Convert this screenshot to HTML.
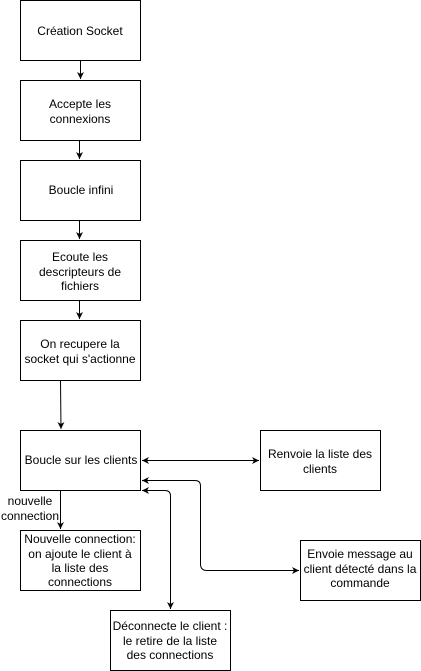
<!DOCTYPE html>
<html><head><style>body{margin:0;background:#fff}svg{display:block}text{font-family:"Liberation Sans",sans-serif;font-size:12px;fill:#000;text-anchor:middle}</style></head>
<body>
<svg width="421" height="671" viewBox="0 0 421 671" xmlns="http://www.w3.org/2000/svg">
<defs><marker id="a" markerWidth="8" markerHeight="8" refX="7" refY="4" orient="auto" markerUnits="userSpaceOnUse"><path d="M0,0.5 L7,4 L0,7.5 L2,4 Z" fill="#000"/></marker>
<marker id="s" markerWidth="8" markerHeight="8" refX="1" refY="4" orient="auto" markerUnits="userSpaceOnUse"><path d="M8,0.5 L1,4 L8,7.5 L6,4 Z" fill="#000"/></marker></defs>
<g fill="#fff" stroke="#000" stroke-width="1">
<rect x="20.5" y="0.5" width="120" height="60"/>
<rect x="20.5" y="80.5" width="120" height="60"/>
<rect x="20.5" y="160.5" width="120" height="60"/>
<rect x="20.5" y="240.5" width="120" height="60"/>
<rect x="20.5" y="320.5" width="120" height="60"/>
<rect x="20.5" y="430.5" width="120" height="60"/>
<rect x="260.5" y="430.5" width="120" height="60"/>
<rect x="20.5" y="530.5" width="120" height="60"/>
<rect x="300.5" y="540.5" width="120" height="60"/>
<rect x="110.5" y="610.5" width="120" height="60"/>
</g>
<g stroke="#000" stroke-width="1" fill="none">
<path d="M80.5 60.5V79" marker-end="url(#a)"/>
<path d="M79.5 140.5V159" marker-end="url(#a)"/>
<path d="M79.5 220.5V239" marker-end="url(#a)"/>
<path d="M79.5 300.5V319" marker-end="url(#a)"/>
<path d="M60.5 380.5L61 429" marker-end="url(#a)"/>
<path d="M60.5 490.5V529" marker-end="url(#a)"/>
<path d="M142 460.5H259" marker-start="url(#s)" marker-end="url(#a)"/>
<path d="M142 480.5H195Q200.5 480.5 200.5 486V564Q200.5 570.5 207 570.5H299" marker-start="url(#s)" marker-end="url(#a)"/>
<path d="M142 490.5H165Q170.5 490.5 170.5 496V609" marker-start="url(#s)" marker-end="url(#a)"/>
</g>
<text x="80" y="35">Création Socket</text>
<text x="80" y="108">Accepte les</text><text x="80" y="123">connexions</text>
<text x="81" y="194">Boucle infini</text>
<text x="80" y="261">Ecoute les</text><text x="80" y="276">descripteurs de</text><text x="80" y="290">fichiers</text>
<text x="80" y="348">On recupere la</text><text x="80" y="363">socket qui s'actionne</text>
<text x="81" y="464">Boucle sur les clients</text>
<text x="320" y="458">Renvoie la liste des</text><text x="320" y="473">clients</text>
<text x="30" y="505">nouvelle</text><text x="30" y="520">connection</text>
<text x="80" y="543">Nouvelle connection:</text><text x="80" y="558">on ajoute le client à</text><text x="80" y="572">la liste des</text><text x="80" y="586">connections</text>
<text x="360" y="558">Envoie message au</text><text x="360" y="573">client détecté dans la</text><text x="360" y="587">commande</text>
<text x="170" y="630">Déconnecte le client :</text><text x="170" y="645">le retire de la liste</text><text x="170" y="659">des connections</text>
</svg>
</body></html>
